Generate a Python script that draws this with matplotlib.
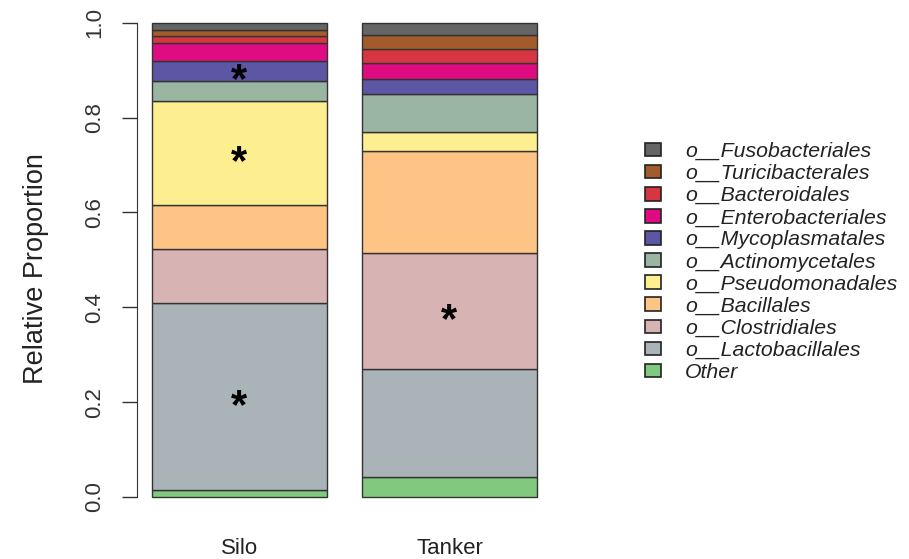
import matplotlib
matplotlib.use("Agg")
import matplotlib.pyplot as plt
from matplotlib.patches import Patch
import numpy as np

plt.rcParams['font.family'] = ['Liberation Sans', 'DejaVu Sans']

samples = ["Silo", "Tanker"]

# taxa listed from bottom of the stack to the top
taxa = ["Other", "o__Lactobacillales", "o__Clostridiales", "o__Bacillales",
        "o__Pseudomonadales", "o__Actinomycetales", "o__Mycoplasmatales",
        "o__Enterobacteriales", "o__Bacteroidales", "o__Turicibacterales",
        "o__Fusobacteriales"]

silo = [0.015, 0.393, 0.115, 0.093, 0.218, 0.044, 0.042, 0.037, 0.014, 0.014, 0.015]
tanker = [0.043, 0.227, 0.244, 0.216, 0.039, 0.081, 0.031, 0.034, 0.030, 0.029, 0.026]

colors = ["#80C97F", "#AAB3B8", "#D8B3B3", "#FDC486", "#FDEE90", "#9AB5A2",
          "#5C56A4", "#DE0C80", "#D63642", "#A45B2C", "#656565"]

# significant differences: (sample index, taxon index)
starred = [(0, 1), (0, 4), (0, 6), (1, 2)]

fig = plt.figure(figsize=(9.09, 5.59), dpi=100)
W, H = 909, 559
left_px, right_px, top_px, bot_px = 137, 550, 10, 510
ax = fig.add_axes([left_px / W, (H - bot_px) / H,
                   (right_px - left_px) / W, (bot_px - top_px) / H])

centers = np.array([0.7, 1.9])
values = np.array([silo, tanker])
bottoms = np.zeros(len(samples))
for k, name in enumerate(taxa):
    ax.bar(centers, values[:, k], width=1.0, bottom=bottoms, color=colors[k],
           edgecolor="#333333", linewidth=1.0, label=name)
    bottoms += values[:, k]

cum = np.cumsum(values, axis=1)
for s, k in starred:
    y = cum[s, k] - values[s, k] / 2
    ax.text(centers[s], y - 0.022, "*", ha="center", va="center",
            fontsize=30, color="black", fontweight="bold")

px_per_x = 175.0
ax.set_xlim(0.2 - (152 - left_px) / px_per_x, 0.2 + (right_px - 152) / px_per_x)
px_per_y = 474.3
ax.set_ylim(-(bot_px - 497) / px_per_y, 1 + (22.7 - top_px) / px_per_y)

for side in ["top", "right", "bottom"]:
    ax.spines[side].set_visible(False)
ax.spines["left"].set_bounds(0, 1)
ax.spines["left"].set_color("#333333")
ax.set_yticks([0, 0.2, 0.4, 0.6, 0.8, 1.0])
ax.set_yticklabels(["0.0", "0.2", "0.4", "0.6", "0.8", "1.0"], rotation=90,
                   va="center", fontsize=16, color="#333333")
ax.tick_params(axis="y", length=11, width=1, pad=12, colors="#333333")
ax.set_xticks(centers)
ax.set_xticklabels(samples, fontsize=16, color="#222222")
ax.tick_params(axis="x", length=0, pad=20)
ax.set_ylabel("Relative Proportion", fontsize=19.5, color="#222222")
ax.yaxis.set_label_coords(-(left_px - 49) / (right_px - left_px),
                          (bot_px - 269) / (bot_px - top_px))

handles = [Patch(facecolor=colors[k], edgecolor="#222222", linewidth=1.2)
           for k in range(len(taxa))][::-1]
fig.legend(handles, taxa[::-1], loc="upper left",
           bbox_to_anchor=(645 / W, 1 - 142 / H), frameon=False,
           borderpad=0, borderaxespad=0,
           handlelength=0.75, handleheight=0.61, handletextpad=1.13,
           labelspacing=0.146, prop={"size": 15.3, "style": "italic"},
           labelcolor="#222222")

fig.savefig("out.png", dpi=100)
